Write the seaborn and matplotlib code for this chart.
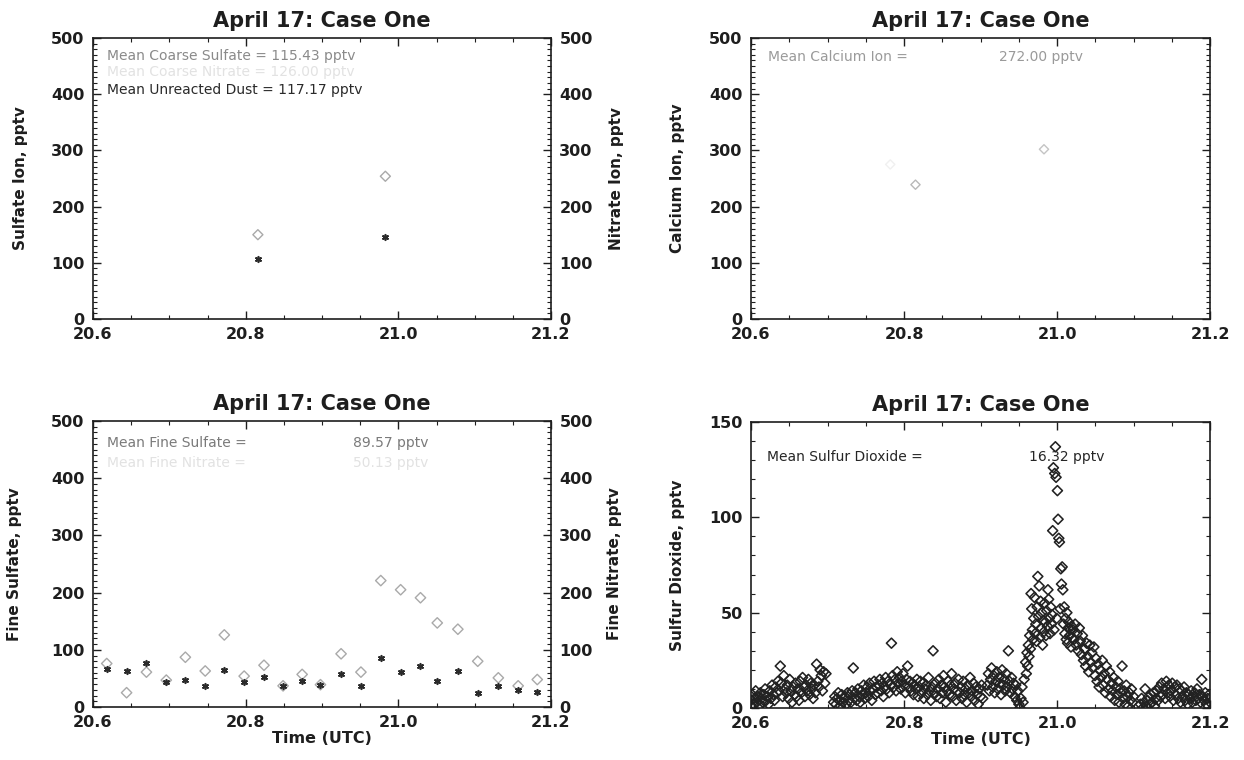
import numpy as np
import pandas as pd
import matplotlib
matplotlib.use("Agg")
import matplotlib.pyplot as plt
from matplotlib.ticker import MultipleLocator, FixedLocator, FormatStrFormatter
import seaborn as sns

TITLE = "April 17: Case One"
X_TICKS = [20.6, 20.8, 21.0, 21.2]

# ---- Coarse-mode ions (top left) ----
coarse_time = [20.816, 20.983]
coarse_sulfate = [150, 254]
coarse_nitrate = [106, 146]

# ---- Calcium ion (top right) ----
calcium_time = [20.782, 20.815, 20.983]
calcium_ion = [275, 239, 302]

# ---- Fine-mode ions (bottom left) ----
fine_time = [20.618, 20.644, 20.670, 20.696, 20.721, 20.747, 20.772, 20.798,
             20.824, 20.849, 20.874, 20.898, 20.925, 20.951, 20.977, 21.003,
             21.029, 21.051, 21.078, 21.104, 21.131, 21.157, 21.182]
fine_sulfate = [76, 25, 61, 47, 87, 63, 126, 54, 73, 37, 57, 39,
                93, 61, 221, 205, 191, 147, 136, 80, 51, 37, 48]
fine_nitrate = [67, 63, 77, 44, 47, 37, 64, 44, 52, 37, 45, 38,
                57, 37, 85, 61, 71, 45, 63, 25, 37, 30, 27]

# ---- Sulfur dioxide record, split into sampling legs (start, end) ----
so2_legs = [(20.600, 20.698), (20.708, 20.903), (20.909, 20.957),
            (20.959, 21.020), (21.021, 21.100), (21.109, 21.200)]
so2_leg1 = [4, 7, 2, 5, 9, 3, 6, 1, 8, 5,
            3, 7, 10, 4, 6, 2, 9, 5, 12, 7,
            4, 11, 8, 14, 9, 22, 13, 6, 17, 10,
            8, 12, 5, 15, 9, 3, 11, 7, 13, 6,
            10, 4, 14, 8, 16, 11, 6, 12, 9, 15,
            7, 13, 10, 5, 12, 8, 23, 14, 11, 20,
            17, 9, 19, 13, 18]
so2_leg2 = [3, 6, 2, 5, 8, 4, 1, 7, 3, 5,
            6, 2, 8, 4, 7, 3, 9, 21, 5, 8,
            4, 10, 6, 3, 9, 7, 12, 5, 8, 11,
            6, 13, 9, 4, 10, 14, 7, 11, 8, 12,
            15, 9, 13, 6, 11, 16, 10, 14, 8, 12,
            34, 17, 11, 15, 9, 19, 13, 16, 10, 14,
            18, 12, 8, 15, 22, 11, 14, 9, 13, 7,
            12, 10, 15, 6, 11, 14, 8, 13, 5, 10,
            12, 7, 16, 9, 4, 11, 30, 8, 13, 6,
            10, 15, 5, 12, 8, 17, 11, 3, 9, 14,
            7, 12, 18, 6, 10, 13, 4, 9, 15, 8,
            11, 5, 14, 7, 10, 3, 12, 8, 16, 6,
            9, 13, 4, 11, 7, 2, 10, 6, 12, 5]
so2_leg3 = [12, 18, 9, 15, 21, 11, 17, 8, 14, 19,
            10, 16, 13, 7, 20, 12, 15, 9, 18, 11,
            30, 14, 8, 16, 10, 13, 6, 12, 4, 9,
            2, 0, 5, 11, 3, 15]
so2_leg4 = [24, 18, 29, 22, 33, 27, 38, 31, 60, 52,
            41, 36, 47, 58, 39, 44, 35, 53, 69, 48,
            64, 37, 56, 42, 50, 33, 46, 40, 55, 45,
            38, 51, 43, 62, 57, 47, 39, 53, 44, 49,
            93, 126, 41, 123, 137, 121, 47, 114, 99, 89,
            87, 52, 73, 65, 74, 62, 44, 53, 39, 47,
            36, 50, 34, 42, 45, 38, 41, 32, 43, 37]
so2_leg5 = [41, 36, 44, 33, 39, 30, 42, 35, 28, 38,
            25, 31, 22, 34, 27, 19, 33, 24, 29, 21,
            32, 17, 26, 14, 23, 11, 20, 16, 25, 12,
            18, 8, 22, 15, 10, 19, 6, 13, 9, 16,
            4, 11, 7, 14, 3, 10, 8, 22, 5, 9,
            2, 12, 6, 1, 8, 4, 10, 3, 6]
so2_leg6 = [2, 5, 0, 3, 10, 1, 4, 6, 2, 7,
            3, 8, 1, 5, 9, 4, 11, 6, 13, 7,
            10, 5, 14, 8, 12, 6, 9, 13, 4, 11,
            7, 12, 5, 10, 3, 9, 6, 11, 4, 8,
            2, 7, 5, 9, 3, 6, 8, 4, 10, 5,
            7, 3, 15, 6, 4, 8, 2, 5, 7, 3]

so2_frames = []
for (t0, t1), vals in zip(so2_legs, [so2_leg1, so2_leg2, so2_leg3,
                                      so2_leg4, so2_leg5, so2_leg6]):
    so2_frames.append(pd.DataFrame({"time": np.linspace(t0, t1, len(vals)),
                                    "so2": vals}))
so2 = pd.concat(so2_frames, ignore_index=True)

coarse = pd.DataFrame({"time": coarse_time, "sulfate": coarse_sulfate,
                       "nitrate": coarse_nitrate})
calcium = pd.DataFrame({"time": calcium_time, "calcium": calcium_ion})
fine = pd.DataFrame({"time": fine_time, "sulfate": fine_sulfate,
                     "nitrate": fine_nitrate})

# ---- style ----
sns.set_theme(style="ticks")
plt.rcParams["font.family"] = ["DejaVu Sans"]
INK = "#1e1e1e"

fig = plt.figure(figsize=(12.44, 7.6), dpi=100)
fig.patch.set_facecolor("white")

W, H = 1244.0, 760.0
def place(x0, x1, ytop, ybot):
    return fig.add_axes([x0 / W, 1 - ybot / H, (x1 - x0) / W, (ybot - ytop) / H])

ax_tl = place(93, 551, 38, 319)
ax_tr = place(751, 1210, 38, 319)
ax_bl = place(93, 551, 421, 707)
ax_br = place(751, 1210, 422, 708)


def style_axes(ax, ymax, ymajor, yminor):
    ax.set_xlim(20.6, 21.2)
    ax.set_ylim(0, ymax)
    ax.xaxis.set_major_locator(FixedLocator(X_TICKS))
    ax.xaxis.set_minor_locator(MultipleLocator(0.05))
    ax.xaxis.set_major_formatter(FormatStrFormatter("%.1f"))
    ax.yaxis.set_major_locator(MultipleLocator(ymajor))
    ax.yaxis.set_minor_locator(MultipleLocator(yminor))
    ax.yaxis.set_major_formatter(FormatStrFormatter("%d"))
    ax.tick_params(which="both", direction="in", top=True, right=True,
                   colors=INK, labelsize=11.5)
    ax.tick_params(which="major", length=6, width=1.0, pad=6)
    ax.tick_params(which="minor", length=3, width=0.8)
    for lab in ax.get_xticklabels() + ax.get_yticklabels():
        lab.set_fontweight("bold")
    for sp in ax.spines.values():
        sp.set_color(INK)
        sp.set_linewidth(1.2)
    ax.set_title(TITLE, fontsize=15, fontweight="bold", color=INK, pad=8)
    ax.set_facecolor("white")


def right_axis(ax):
    tw = ax.twinx()
    tw.set_ylim(ax.get_ylim())
    tw.yaxis.set_major_locator(MultipleLocator(100))
    tw.yaxis.set_minor_locator(MultipleLocator(10))
    tw.yaxis.set_major_formatter(FormatStrFormatter("%d"))
    tw.tick_params(which="both", direction="in", colors=INK, labelsize=11.5)
    tw.tick_params(which="major", length=6, width=1.0, pad=6)
    tw.tick_params(which="minor", length=3, width=0.8)
    for lab in tw.get_yticklabels():
        lab.set_fontweight("bold")
    for sp in tw.spines.values():
        sp.set_visible(False)
    return tw


def set_ylabel(ax, text, coord):
    ax.set_ylabel(text, fontsize=11, fontweight="bold", color=INK)
    ax.yaxis.set_label_coords(coord, 0.5)


def set_xlabel(ax, text):
    ax.set_xlabel(text, fontsize=11.5, fontweight="bold", color=INK)
    ax.xaxis.set_label_coords(0.5, -0.085)


def note(ax, xpx, ypx, text, color, box, size=10):
    x0, x1, ytop, ybot = box
    ax.text((xpx - x0) / (x1 - x0), 1 - (ypx - ytop) / (ybot - ytop), text,
            transform=ax.transAxes, ha="left", va="center",
            fontsize=size, color=color)


GRAY_MARK = "#a9a9a9"
DARK_MARK = "#2b2b2b"
BOX_TL = (93, 551, 38, 319)
BOX_TR = (751, 1210, 38, 319)
BOX_BL = (93, 551, 421, 707)
BOX_BR = (751, 1210, 422, 708)

# ---- top left: coarse sulfate and nitrate ----
style_axes(ax_tl, 500, 100, 10)
sns.scatterplot(data=coarse, x="time", y="sulfate", ax=ax_tl, marker="D",
                s=26, color="none", edgecolor=GRAY_MARK, linewidth=1.0)
tw_tl = right_axis(ax_tl)
sns.scatterplot(data=coarse, x="time", y="nitrate", ax=tw_tl, marker=(6, 2, 0),
                s=16, color=DARK_MARK, edgecolor=DARK_MARK, linewidth=1.2)
set_ylabel(tw_tl, "Nitrate Ion, pptv", 1.127)
set_ylabel(ax_tl, "Sulfate Ion, pptv", -0.142)
ax_tl.set_xlabel("")
tw_tl.set_xlabel("")
note(ax_tl, 107, 56, "Mean Coarse Sulfate = 115.43 pptv", "#8a8a8a", BOX_TL)
note(ax_tl, 107, 72, f"Mean Coarse Nitrate = {np.mean(coarse_nitrate):.2f} pptv",
     "#e2e2e2", BOX_TL)
note(ax_tl, 107, 90, "Mean Unreacted Dust = 117.17 pptv", "#2a2a2a", BOX_TL)

# ---- top right: calcium ----
style_axes(ax_tr, 500, 100, 10)
sns.scatterplot(data=calcium, x="time", y="calcium", ax=ax_tr, marker="D",
                s=22, color="none", edgecolor=["#f0f0f0", "#b8b8b8", "#c4c4c4"],
                linewidth=1.0)
ax_tr.tick_params(labelright=False)
set_ylabel(ax_tr, "Calcium Ion, pptv", -0.144)
ax_tr.set_xlabel("")
note(ax_tr, 768, 57, "Mean Calcium Ion =", "#9a9a9a", BOX_TR)
note(ax_tr, 999, 57, "272.00 pptv", "#9a9a9a", BOX_TR)

# ---- bottom left: fine sulfate and nitrate ----
style_axes(ax_bl, 500, 100, 10)
sns.scatterplot(data=fine, x="time", y="sulfate", ax=ax_bl, marker="D",
                s=28, color="none", edgecolor=GRAY_MARK, linewidth=1.0)
tw_bl = right_axis(ax_bl)
sns.scatterplot(data=fine, x="time", y="nitrate", ax=tw_bl, marker=(6, 2, 0),
                s=16, color=DARK_MARK, edgecolor=DARK_MARK, linewidth=1.2)
set_ylabel(tw_bl, "Fine Nitrate, pptv", 1.122)
tw_bl.set_xlabel("")
set_ylabel(ax_bl, "Fine Sulfate, pptv", -0.155)
set_xlabel(ax_bl, "Time (UTC)")
note(ax_bl, 107, 443, "Mean Fine Sulfate =", "#7a7a7a", BOX_BL)
note(ax_bl, 353, 443, "89.57 pptv", "#7a7a7a", BOX_BL)
note(ax_bl, 107, 463, "Mean Fine Nitrate =", "#e2e2e2", BOX_BL)
note(ax_bl, 353, 463, f"{np.mean(fine_nitrate):.2f} pptv", "#e2e2e2", BOX_BL)

# ---- bottom right: sulfur dioxide ----
style_axes(ax_br, 150, 50, 10)
sns.scatterplot(data=so2, x="time", y="so2", ax=ax_br, marker="D",
                s=26, color="none", edgecolor="#222222", linewidth=1.15)
ax_br.tick_params(labelright=False)
set_ylabel(ax_br, "Sulfur Dioxide, pptv", -0.144)
set_xlabel(ax_br, "Time (UTC)")
note(ax_br, 767, 457, "Mean Sulfur Dioxide =", "#262626", BOX_BR)
note(ax_br, 1029, 457, "16.32 pptv", "#262626", BOX_BR)

for ax in (ax_tl, ax_tr, ax_bl, ax_br, tw_tl, tw_bl):
    leg = ax.get_legend()
    if leg is not None:
        leg.remove()

fig.savefig("out.png", dpi=100, facecolor="white")
